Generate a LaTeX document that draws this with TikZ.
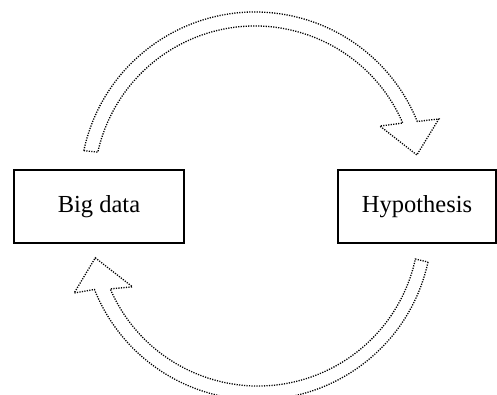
\documentclass[tikz,border=0pt]{standalone}
\usepackage{fontspec}
\setmainfont{Liberation Serif}
\begin{document}
\begin{tikzpicture}[x=1pt,y=1pt,
  box/.style={draw=black, line width=1.3pt, minimum width=#1, minimum height=73pt, inner sep=0pt, font=\fontsize{24.5}{28}\selectfont},
  blockarrow/.style={draw=black, line width=1.3pt, dash pattern=on 1.2pt off 1.3pt, line join=miter}]
\useasboundingbox (0,0) rectangle (497,394);
\node[box=170pt] (big) at (99,187.5) {Big data};
\node[box=158pt] (hyp) at (417,187.5) {Hypothesis};
% top arrow
\draw[blockarrow, shift={(255pt,207pt)}]
  (168:175pt) arc[start angle=168, end angle=22, radius=175pt]
  -- (20.3:196pt) -- (11.2:165pt) -- (26:139pt) -- (23.4:161pt)
  arc[start angle=23.4, end angle=167.5, radius=161pt] -- cycle;
% bottom arrow
\draw[blockarrow, shift={(258pt,169pt)}]
  (-12.3:174pt) arc[start angle=-12.3, end angle=-158.3, radius=175pt]
  -- (-159.7:196pt) -- (-168.6:166pt) -- (-153.8:140pt) -- (-156.6:161pt)
  arc[start angle=-156.6, end angle=-12.2, radius=161pt] -- cycle;
\end{tikzpicture}
\end{document}
